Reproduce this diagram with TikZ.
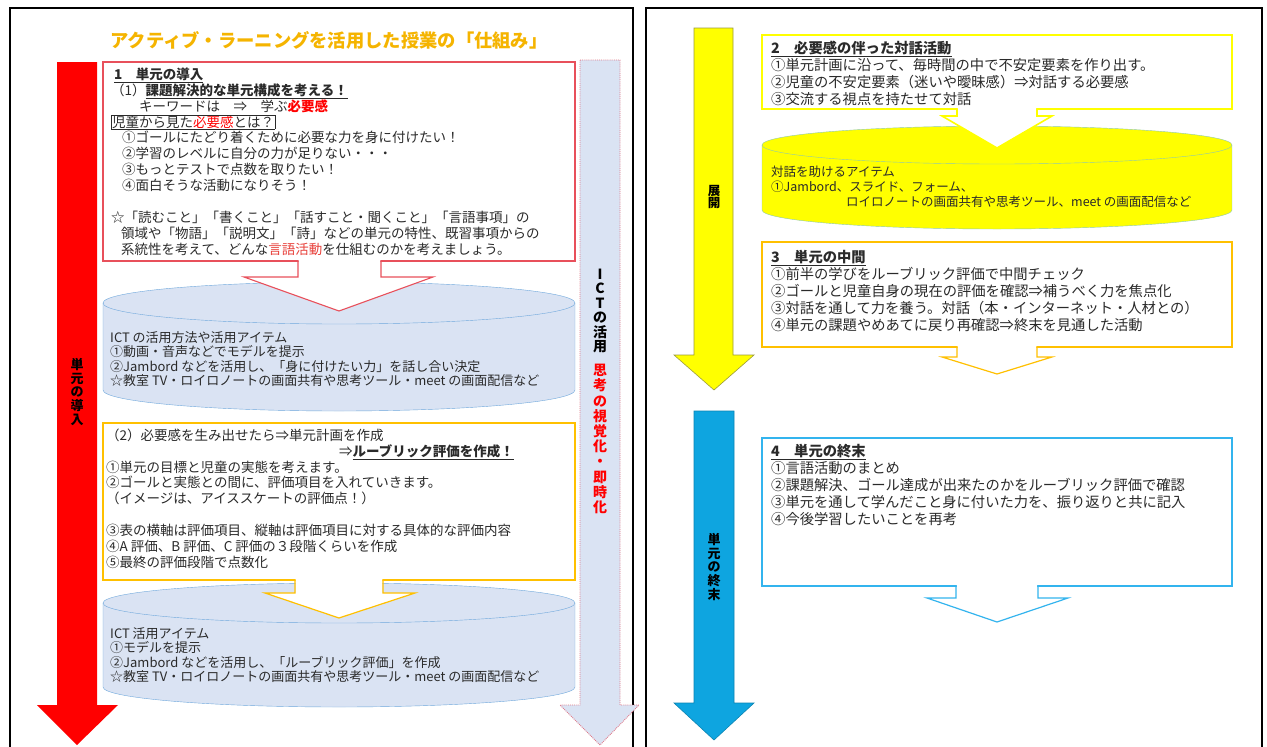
\documentclass[tikz,border=0pt]{standalone}
\usepackage{fontspec}
\setmainfont{Noto Sans CJK JP}
\definecolor{txtc}{HTML}{2A2A2A}
\definecolor{redA}{HTML}{FF0000}
\definecolor{redT}{HTML}{E8403A}
\definecolor{boxred}{HTML}{E8505B}
\definecolor{cylfill}{HTML}{DAE3F3}
\definecolor{cylline}{HTML}{6FA8DC}
\definecolor{gold}{HTML}{FFC000}
\definecolor{titlec}{HTML}{F5B400}
\definecolor{dotline}{HTML}{E07A8A}
\definecolor{yel}{HTML}{FFFF00}
\definecolor{yelline}{HTML}{9A9A3A}
\definecolor{ycylline}{HTML}{8CC8B0}
\definecolor{bluearr}{HTML}{0EA5E0}
\definecolor{bluebox}{HTML}{33B4EE}
\newcommand\fsL{\fontsize{13.5}{15.9}\selectfont}
\newcommand\fsC{\fontsize{13}{14.6}\selectfont}
\newcommand\fsR{\fontsize{14.3}{17}\selectfont}
\newcommand\fsY{\fontsize{12.5}{15}\selectfont}
\newcommand\mycyl[7]{%
  \fill[#6] (#1-#2,#3) rectangle (#1+#2,#4);
  \fill[#6] (#1,#4) ellipse[x radius=#2pt, y radius=#5pt];
  \draw[#7] (#1-#2,#3) -- (#1-#2,#4) arc[start angle=180,end angle=360,x radius=#2pt,y radius=#5pt] -- (#1+#2,#3);
  \filldraw[fill=#6,draw=#7] (#1,#3) ellipse[x radius=#2pt, y radius=#5pt];
}
\begin{document}
\begin{tikzpicture}[x=1pt,y=-1pt,
  txt/.style={anchor=north west,align=left,inner sep=0pt,text=txtc},
  vlab/.style={align=center,inner sep=0pt,font=\bfseries\fontsize{13}{13.6}\selectfont,text=black},
  panel/.style={draw=black,line width=1.6pt},
  notch/.style={line width=1.2pt,line join=miter}]
\useasboundingbox (0,0) rectangle (1267,747);
\clip (0,0) rectangle (1267,747);
\fill[white] (0,0) rectangle (1267,747);

% ---------------- left panel ----------------
\draw[panel] (10,8) rectangle (633,770);
\node[font=\bfseries\fontsize{18.3}{20}\selectfont,text=titlec,inner sep=0pt] (title) at (329,40) {アクティブ・ラーニングを活用した授業の「仕組み」};

% red arrow
\fill[redA] (57,62) -- (97,62) -- (97,705) -- (118,705) -- (77,745) -- (37,705) -- (57,705) -- cycle;
\node[vlab] (lblA) at (77,392) {単\\元\\の\\導\\入};

% dotted ICT arrow
\filldraw[fill=cylfill,draw=dotline,densely dotted,line width=0.9pt] (580,60) -- (620,60) -- (620,705) -- (639,705) -- (600,745) -- (560,705) -- (580,705) -- cycle;
\node[vlab,font=\bfseries\fontsize{14}{14.5}\selectfont] (ictA) at (600,311) {I\\C\\T\\の\\活\\用};
\node[vlab,font=\bfseries\fontsize{14}{15.2}\selectfont,text=redA] (ictB) at (600,439) {思\\考\\の\\視\\覚\\化\\・\\即\\時\\化};

% box 1
\draw[boxred,line width=1.1pt] (103,62) rectangle (575,261);
\node[txt,font=\fsL] (t1) at (111,67.5) {%
\hspace*{3pt}\underline{\bfseries 1　単元の導入}\\
（1）\underline{\bfseries 課題解決的な単元構成を考える！}\\
\hspace*{28pt}キーワードは　⇒　学ぶ{\color{redA}\bfseries 必要感}\\
{\setlength\fboxsep{0.6pt}\fbox{児童から見た{\color{redA}必要感}とは？}}\\
\hspace*{11pt}①ゴールにたどり着くために必要な力を身に付けたい！\\
\hspace*{11pt}②学習のレベルに自分の力が足りない・・・\\
\hspace*{11pt}③もっとテストで点数を取りたい！\\
\hspace*{11pt}④面白そうな活動になりそう！\\
\mbox{}\\
☆「読むこと」「書くこと」「話すこと・聞くこと」「言語事項」の\\
\hspace*{10pt}領域や「物語」「説明文」「詩」などの単元の特性、既習事項からの\\
\hspace*{10pt}系統性を考えて、どんな{\color{redT}言語活動}を仕組むのかを考えましょう。};

% cylinder 1
\mycyl{339}{236}{303}{390}{21}{cylfill}{cylline}
\node[txt,font=\fsC] (c1t) at (110,331) {%
ICT の活用方法や活用アイテム\\
①動画・音声などでモデルを提示\\
②Jambord などを活用し、「身に付けたい力」を話し合い決定\\
☆教室 TV・ロイロノートの画面共有や思考ツール・meet の画面配信など};

% notch arrow 1
\fill[white] (298.6,259) -- (298.6,277) -- (244,277) -- (339,311) -- (433,277) -- (380.4,277) -- (380.4,259) -- cycle;
\draw[boxred,notch,line width=1.1pt] (298,261) -- (298,277) -- (244,277) -- (339,311) -- (433,277) -- (381,277) -- (381,261);

% box 2
\draw[gold,line width=1.3pt] (103,423) rectangle (575,580);
\node[txt,font=\fsL] (t2) at (106,428.5) {%
（2）必要感を生み出せたら⇒単元計画を作成\\
\hspace*{233pt}⇒\underline{\bfseries ルーブリック評価を作成！}\\
①単元の目標と児童の実態を考えます。\\
②ゴールと実態との間に、評価項目を入れていきます。\\
（イメージは、アイススケートの評価点！）\\
\mbox{}\\
③表の横軸は評価項目、縦軸は評価項目に対する具体的な評価内容\\
④A 評価、B 評価、C 評価の３段階くらいを作成\\
⑤最終の評価段階で点数化};

% cylinder 2
\mycyl{339}{236}{603}{687}{20}{cylfill}{cylline}
\node[txt,font=\fsC] (c2t) at (110,627) {%
ICT 活用アイテム\\
①モデルを提示\\
②Jambord などを活用し、「ルーブリック評価」を作成\\
☆教室 TV・ロイロノートの画面共有や思考ツール・meet の画面配信など};

% notch arrow 2
\fill[white] (295.6,578) -- (295.6,593) -- (265,593) -- (339,618) -- (415,593) -- (382.4,593) -- (382.4,578) -- cycle;
\draw[gold,notch] (295,580) -- (295,593) -- (265,593) -- (339,618) -- (415,593) -- (383,593) -- (383,580);

% ---------------- right panel ----------------
\draw[panel] (646,8) rectangle (1262,770);

% yellow arrow
\filldraw[fill=yel,draw=yelline,line width=0.6pt] (694,28) -- (733,28) -- (733,355) -- (754,355) -- (714,390) -- (674,355) -- (694,355) -- cycle;
\node[vlab,font=\bfseries\fontsize{12.5}{12.5}\selectfont] (lblB) at (714,197) {展\\開};

% box 2r
\draw[yel,line width=2pt] (762,35) rectangle (1232,109);
\node[txt,font=\fsR] (r2t) at (771,40.5) {%
\underline{\bfseries 2　必要感の伴った対話活動}\\
①単元計画に沿って、毎時間の中で不安定要素を作り出す。\\
②児童の不安定要素（迷いや曖昧感）⇒対話する必要感\\
③交流する視点を持たせて対話};

% yellow cylinder
\mycyl{997}{235}{145}{210}{19}{yel}{ycylline}
\node[txt,font=\fsY] (ycylt) at (771,166) {%
対話を助けるアイテム\\
①Jambord、スライド、フォーム、\\
\hspace*{75pt}ロイロノートの画面共有や思考ツール、meet の画面配信など};

% notch arrow 2r
\fill[white] (957.8,107) -- (957.8,116) -- (942,116) -- (997,148) -- (1052,116) -- (1036.2,116) -- (1036.2,107) -- cycle;
\draw[yel,notch,line width=1.6pt] (957,109) -- (957,116) -- (942,116) -- (997,148) -- (1052,116) -- (1037,116) -- (1037,109);

% box 3
\draw[gold,line width=1.2pt] (762,242) rectangle (1232,347);
\node[txt,font=\fsR] (r3t) at (771,249.5) {%
\underline{\bfseries 3　単元の中間}\\
①前半の学びをルーブリック評価で中間チェック\\
②ゴールと児童自身の現在の評価を確認⇒補うべく力を焦点化\\
③対話を通して力を養う。対話（本・インターネット・人材との）\\
④単元の課題やめあてに戻り再確認⇒終末を見通した活動};
\fill[white] (957.6,345) -- (957.6,357) -- (942,357) -- (997,374) -- (1052,357) -- (1036.4,357) -- (1036.4,345) -- cycle;
\draw[gold,notch] (957,347) -- (957,357) -- (942,357) -- (997,374) -- (1052,357) -- (1037,357) -- (1037,347);

% blue arrow
\filldraw[fill=bluearr,draw=bluearr!80!black,line width=0.6pt] (694,411) -- (734,411) -- (734,703) -- (754,703) -- (714,740) -- (674,703) -- (694,703) -- cycle;
\node[vlab] (lblC) at (714,567) {単\\元\\の\\終\\末};

% box 4
\draw[bluebox,line width=1.5pt] (762,438) rectangle (1232,586);
\node[txt,font=\fsR] (r4t) at (771,443.5) {%
\underline{\bfseries 4　単元の終末}\\
①言語活動のまとめ\\
②課題解決、ゴール達成が出来たのかをルーブリック評価で確認\\
③単元を通して学んだこと身に付いた力を、振り返りと共に記入\\
④今後学習したいことを再考};
\fill[white] (956.8,584) -- (956.8,598) -- (927,598) -- (997,622) -- (1068,598) -- (1037.2,598) -- (1037.2,584) -- cycle;
\draw[bluebox,notch] (956,586) -- (956,598) -- (927,598) -- (997,622) -- (1068,598) -- (1038,598) -- (1038,586);
\end{tikzpicture}
\end{document}
